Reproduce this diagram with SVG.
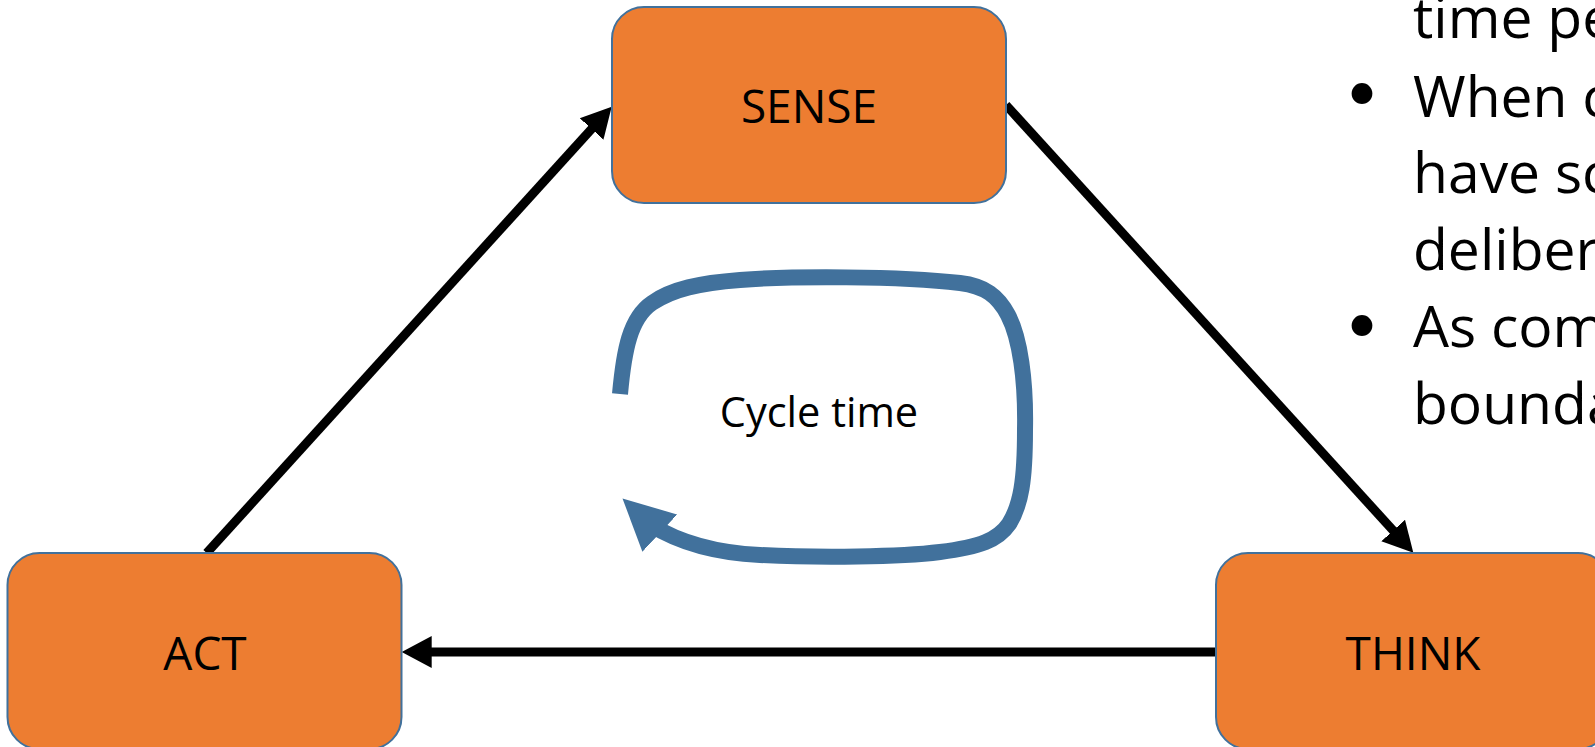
<svg xmlns="http://www.w3.org/2000/svg" width="1595" height="747" viewBox="0 0 1595 747">
  <style>
    text { font-family: "Open Sans", "Liberation Sans", sans-serif; fill: #000; font-variant-ligatures: none; }
    .box { fill: #ED7D31; stroke: #41719C; stroke-width: 2; }
    .lbl { font-size: 46px; text-anchor: middle; }
    .conn { stroke: #000; stroke-width: 9; fill: none; marker-end: url(#ah); }
    .cyc { stroke: #41719C; stroke-width: 16; fill: none; marker-end: url(#ahc); }
    .cyctxt { font-size: 41.5px; text-anchor: middle; }
    .bul { font-size: 57px; }
    .dot { font-family: Lato, "Open Sans", sans-serif; font-size: 56px; text-anchor: middle; }
  </style>
  <defs>
    <marker id="ah" markerUnits="userSpaceOnUse" markerWidth="32" markerHeight="34" viewBox="0 0 32 34" refX="2" refY="17" orient="auto">
      <path d="M0,1 L30,17 L0,33 z" fill="#000"/>
    </marker>
    <marker id="ahc" markerUnits="userSpaceOnUse" markerWidth="52" markerHeight="52" viewBox="0 0 52 52" refX="12" refY="26" orient="223">
      <path d="M0,0.5 L51,26 L0,51.5 z" fill="#41719C"/>
    </marker>
  </defs>
  <rect width="1595" height="747" fill="#fff"/>

  <g id="connectors">
    <line class="conn" x1="206.7" y1="553" x2="592.9" y2="127.4"/>
    <line class="conn" x1="1006" y1="105" x2="1394.5" y2="532"/>
    <line class="conn" x1="1216" y1="652" x2="429.7" y2="652"/>
    <path class="cyc" d="M 620 394 C 624 350, 630 318, 652 303 C 672 289, 700 283, 740 280 C 790 276, 900 276, 960 283 C 985 286, 998 296, 1008 315 C 1020 338, 1026 380, 1025 430 C 1025 480, 1021 505, 1009 524 C 998 540, 980 547, 940 552 C 900 557, 820 558, 760 555 C 718 553, 680 543, 651 525"/>
  </g>

  <g id="sense">
    <rect class="box" x="612" y="7" width="394" height="196" rx="32"/>
    <text class="lbl" x="809" y="123">SENSE</text>
  </g>
  <g id="act">
    <rect class="box" x="7.5" y="553" width="394" height="196" rx="32"/>
    <text class="lbl" x="205" y="670">ACT</text>
  </g>
  <g id="think">
    <rect class="box" x="1216" y="553" width="394" height="196" rx="32"/>
    <text class="lbl" x="1413" y="670">THINK</text>
  </g>

  <g id="cycle-label">
    <text class="cyctxt" x="819" y="427">Cycle time</text>
  </g>

  <g id="notes">
    <text class="bul" x="1413" y="38">time pe</text>
    <text class="dot" x="1362" y="110">•</text>
    <text class="bul" x="1413" y="117">When c</text>
    <text class="bul" x="1413" y="193">have sc</text>
    <text class="bul" x="1413" y="270">deliber</text>
    <text class="dot" x="1362" y="342">•</text>
    <text class="bul" x="1413" y="347">As com</text>
    <text class="bul" x="1413" y="424">bounda</text>
  </g>
</svg>
